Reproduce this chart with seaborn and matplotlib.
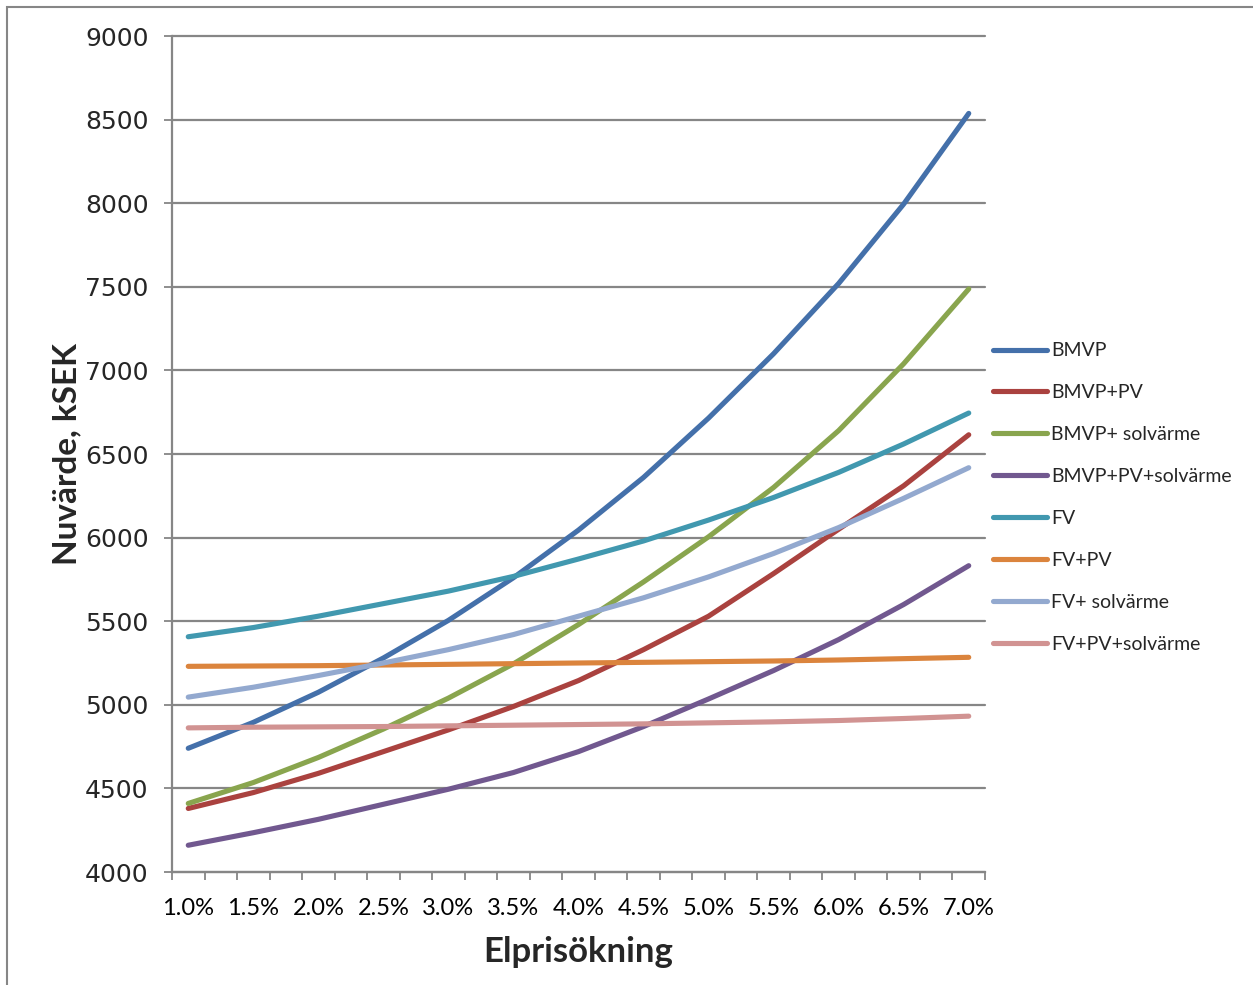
import numpy as np
import pandas as pd
import matplotlib
matplotlib.use("Agg")
import matplotlib.pyplot as plt
from matplotlib.patches import Rectangle
import seaborn as sns

# ---------------------------------------------------------------
# DATA (nuvärde in kSEK vs annual electricity price increase)
# ---------------------------------------------------------------
ELPRIS = [1.0, 1.5, 2.0, 2.5, 3.0, 3.5, 4.0, 4.5, 5.0, 5.5, 6.0, 6.5, 7.0]
XTICK_LABELS = ["1.0%", "1.5%", "2.0%", "2.5%", "3.0%", "3.5%", "4.0%",
                "4.5%", "5.0%", "5.5%", "6.0%", "6.5%", "7.0%"]
YTICKS = [4000, 4500, 5000, 5500, 6000, 6500, 7000, 7500, 8000, 8500, 9000]

SERIES = ["BMVP", "BMVP+PV", "BMVP+ solvärme", "BMVP+PV+solvärme",
          "FV", "FV+PV", "FV+ solvärme", "FV+PV+solvärme"]

BMVP          = [4740, 4895, 5075, 5280, 5505, 5760, 6045, 6360, 6715, 7100, 7520, 7995, 8537]
BMVP_PV       = [4380, 4475, 4590, 4720, 4850, 4990, 5145, 5330, 5530, 5785, 6050, 6310, 6615]
BMVP_SOL      = [4410, 4535, 4685, 4855, 5040, 5245, 5480, 5735, 6005, 6300, 6640, 7040, 7487]
BMVP_PV_SOL   = [4160, 4235, 4315, 4405, 4495, 4595, 4720, 4870, 5035, 5205, 5390, 5600, 5832]
FV            = [5407, 5462, 5530, 5605, 5680, 5768, 5872, 5980, 6105, 6240, 6390, 6560, 6745]
FV_PV         = [5230, 5232, 5234, 5238, 5242, 5246, 5250, 5254, 5258, 5262, 5268, 5276, 5284]
FV_SOL        = [5046, 5105, 5175, 5250, 5330, 5420, 5530, 5640, 5765, 5905, 6060, 6235, 6418]
FV_PV_SOL     = [4862, 4866, 4868, 4870, 4874, 4878, 4882, 4886, 4892, 4898, 4906, 4918, 4932]

COLORS = ["#4470AA", "#AA423F", "#89A54E", "#71588F",
          "#4198AF", "#DB843D", "#93A9CF", "#D19392"]

values = [BMVP, BMVP_PV, BMVP_SOL, BMVP_PV_SOL, FV, FV_PV, FV_SOL, FV_PV_SOL]
rows = []
for name, vals in zip(SERIES, values):
    for x, v in zip(ELPRIS, vals):
        rows.append({"elpris": x, "nuvarde": v, "serie": name})
df = pd.DataFrame(rows)

# ---------------------------------------------------------------
# PLOT
# ---------------------------------------------------------------
sns.set_style("white")
plt.rcParams["font.family"] = ["Lato", "DejaVu Sans"]

GRAY = "#868686"
W, H = 1253, 985
fig = plt.figure(figsize=(W / 100, H / 100), dpi=100)
ax = fig.add_axes([172 / W, 1 - 872 / H, (985 - 172) / W, (872 - 36) / H])

sns.lineplot(data=df, x="elpris", y="nuvarde", hue="serie", hue_order=SERIES,
             palette=COLORS, linewidth=3.7, solid_capstyle="round",
             solid_joinstyle="round", sort=False, estimator=None, ax=ax)

ax.set_xlim(0.875, 7.125)
ax.set_ylim(4000, 9000)

ax.set_yticks(YTICKS)
ax.set_yticklabels([str(v) for v in YTICKS])
ax.set_xticks(ELPRIS)
ax.set_xticklabels(XTICK_LABELS)
ax.set_xticks(np.arange(0.875, 7.126, 0.25), minor=True)

ax.tick_params(axis="x", which="major", length=0, pad=19, labelsize=17,
               labelcolor="black")
ax.tick_params(axis="x", which="minor", length=6, width=1.3, color=GRAY,
               direction="out", bottom=True)
ax.tick_params(axis="y", which="major", length=6, width=1.3, color=GRAY,
               direction="out", left=True, pad=11, labelsize=18)
for lbl in ax.get_yticklabels():
    lbl.set_fontfamily("DejaVu Sans")

ax.yaxis.grid(True, color=GRAY, linewidth=1.6)
ax.xaxis.grid(False)
ax.set_axisbelow(True)
for gl in ax.yaxis.get_gridlines():
    gl.set_clip_on(False)

for side in ["top", "right"]:
    ax.spines[side].set_visible(False)
for side in ["left", "bottom"]:
    ax.spines[side].set_color(GRAY)
    ax.spines[side].set_linewidth(1.6)

ax.set_xlabel("Elprisökning", fontsize=25, fontweight="bold")
ax.set_ylabel("Nuvärde, kSEK", fontsize=24, fontweight="bold")
ax.xaxis.set_label_coords(0.5, -0.076)
ax.yaxis.set_label_coords(-0.112, 0.5)

sns.move_legend(ax, "center left", bbox_to_anchor=(1.0098, 0.4480),
                frameon=False, title=None, fontsize=14, handlelength=2.8,
                handletextpad=0.2, labelspacing=1.28, borderpad=0,
                borderaxespad=0)

# chart area border (left and top visible in the crop)
fig.patches.append(Rectangle((7 / W, -0.1), 1.2, 1.1 - 7 / H,
                             transform=fig.transFigure, fill=False,
                             edgecolor=GRAY, linewidth=1.5))

fig.savefig("out.png", dpi=100)
